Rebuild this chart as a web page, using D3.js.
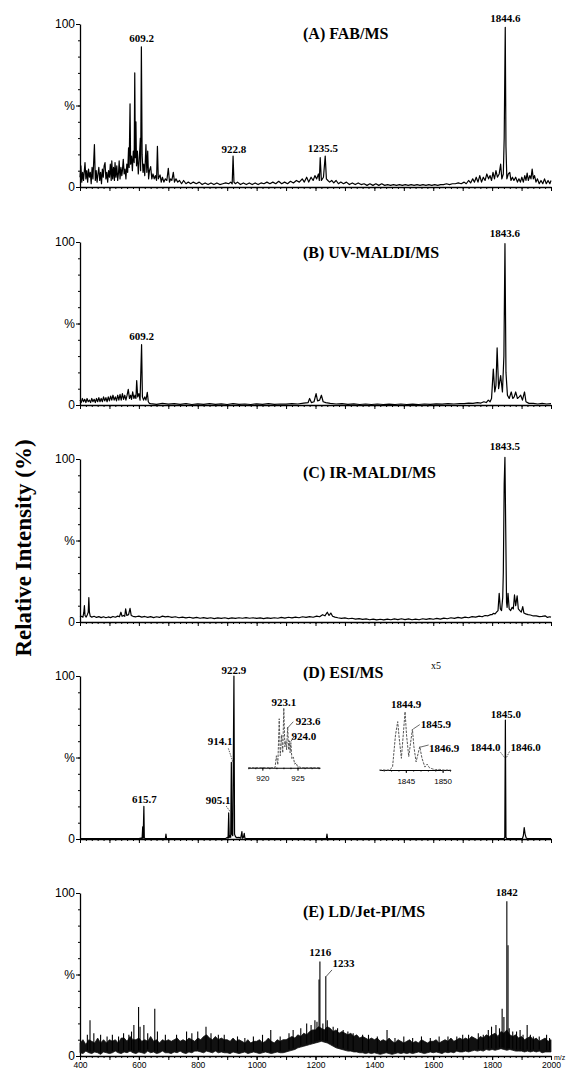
<!DOCTYPE html>
<html>
<head>
<meta charset="utf-8">
<script src="https://cdn.jsdelivr.net/npm/d3@7"></script>
<style>
  body { margin: 0; background: #fff; }
  svg { display: block; }
</style>
</head>
<body>
<div id="graf"></div>
<script>
// ---- data: [m/z, relative intensity %] ----
const titles = ["(A) FAB/MS", "(B) UV-MALDI/MS", "(C) IR-MALDI/MS", "(D) ESI/MS", "(E) LD/Jet-PI/MS"]
const xTickLabels = [400, 600, 800, 1000, 1200, 1400, 1600, 1800, 2000]
const yTickValues = [0, 50, 100]
const yTickLabels = ["0", "%", "100"]

const specA = [[400,6],[403,13],[406,3],[409,9],[412,4],[417,15],[420,5],[423,10],[426,3],[429,11],[432,6],[435,9],[438,2],[441,12],[444,5],[449,26],[452,4],[455,10],[458,3],[461,8],[464,12],[467,4],[470,9],[473,2],[476,11],[479,6],[482,13],[485,15],[488,5],[491,9],[494,3],[497,10],[500,6],[503,14],[506,4],[508,16],[511,5],[514,12],[517,4],[519,15],[522,6],[525,13],[528,4],[531,9],[533,16],[536,5],[539,12],[542,7],[544,10],[547,17],[550,8],[553,11],[556,5],[559,14],[562,9],[565,24],[567,12],[570,51],[572,14],[575,19],[578,10],[581,22],[584,15],[586,70],[588,18],[590,40],[592,13],[595,22],[598,8],[601,16],[605,30],[606,10],[608.5,86],[611,20],[614,9],[617,14],[620,7],[624,26],[627,9],[630,22],[633,5],[636,10],[640,12.5],[644,5],[648,8],[652,5],[656,7],[660,4],[663,25],[666,5],[672,7.4],[676,3],[680,6],[685,3],[690,5],[695,4],[700,11.5],[704,3],[708,5],[712,4],[717,9],[721,3],[726,5],[732,3],[738,4],[745,2],[752,4],[760,2],[768,3],[776,2],[785,3],[795,2],[805,3],[815,1.5],[825,2.5],[835,1.5],[845,2.5],[855,1.5],[865,2.5],[875,1.5],[885,2],[895,2.5],[905,2],[912,3],[917,2],[920,19],[923,3],[928,2],[935,3],[945,1.5],[955,2.5],[965,1.5],[975,2.5],[985,1.5],[995,2.5],[1005,1.5],[1015,2.5],[1025,2],[1035,3],[1045,2],[1055,3],[1065,2],[1075,3.5],[1085,2],[1095,3],[1105,2],[1115,3.5],[1125,2.5],[1135,4],[1145,3],[1155,5],[1162,3],[1170,6],[1177,3],[1185,6],[1192,4],[1198,7],[1204,5],[1210,8],[1213,4],[1216,18],[1220,4],[1227,6],[1233,19],[1237,5],[1242,4],[1248,3],[1255,4],[1262,2.5],[1270,4],[1278,2],[1286,3],[1295,2],[1305,3],[1315,1.5],[1325,2.5],[1335,1.5],[1345,2.5],[1355,1.5],[1365,2],[1375,1],[1385,2],[1395,1],[1405,2],[1415,1],[1425,2],[1435,1],[1445,1.5],[1455,1],[1465,1.5],[1475,1],[1485,1.5],[1495,1],[1505,1.5],[1515,1],[1525,1.5],[1535,1],[1545,1.5],[1555,1],[1565,1.5],[1575,1],[1585,1.5],[1595,1],[1605,1.5],[1615,1],[1625,1.5],[1635,1.5],[1645,2],[1655,1.5],[1665,2],[1675,2],[1685,2.5],[1695,2],[1705,3],[1712,2],[1720,4],[1727,2.5],[1734,5],[1740,3],[1746,6],[1752,3],[1758,7],[1764,3],[1770,6],[1776,4],[1782,8],[1788,5],[1793,7],[1798,4],[1803,9],[1808,5],[1813,10],[1818,6],[1824,8],[1829,14],[1833,5],[1838,8],[1841,30],[1844.6,98],[1847,25],[1850,5],[1855,8],[1860,9],[1864,4],[1869,6],[1874,4],[1880,6],[1886,3],[1891,5],[1896,3],[1901,6],[1906,3],[1911,7],[1915,4],[1919,8.5],[1923,4],[1928,7],[1932,5],[1936,11],[1940,5],[1944,7],[1949,3],[1954,5],[1960,2],[1966,4],[1972,2],[1978,5],[1984,2],[1990,4],[1996,2],[2000,4]]

const specB = [[400,3],[404,1.5],[408,4],[412,2],[416,3.5],[420,1.5],[424,4],[428,2],[432,3],[436,1.5],[440,4],[444,2],[448,3.5],[452,1.5],[456,4],[460,2],[464,4.5],[468,2],[472,4],[476,2],[480,5],[484,2.5],[488,4.5],[492,2],[496,5],[500,2.5],[504,5.5],[508,3],[512,6],[516,3],[520,5],[524,2.5],[528,6],[532,3],[536,6.5],[540,3],[544,7],[548,3.5],[552,6],[556,3],[560,6],[564,9.6],[568,4],[572,6],[575,3.5],[579,8],[583,4],[587,6],[590,4],[592.6,15],[596,5],[600,7],[604,3],[609.2,37],[612,5],[616,3],[620,5],[624,3],[628.6,7.8],[632,2],[636,1],[640,0.8],[660,0.4],[680,1],[700,0.5],[720,0.9],[740,0.4],[760,0.8],[780,0.3],[800,0.7],[820,0.4],[840,0.9],[860,0.4],[880,0.7],[900,0.3],[920,0.8],[940,0.4],[960,0.6],[980,0.3],[1000,0.7],[1020,0.4],[1040,0.8],[1060,0.4],[1080,0.6],[1100,0.5],[1120,0.9],[1140,0.6],[1160,1.2],[1175,1.5],[1180,4],[1186,1.5],[1195,2],[1202,7],[1207,2.5],[1214,3],[1220,6],[1226,2],[1235,1.5],[1250,1],[1270,0.6],[1290,0.8],[1310,0.4],[1330,0.7],[1350,0.3],[1370,0.6],[1390,0.3],[1410,0.6],[1430,0.3],[1450,0.5],[1470,0.3],[1490,0.6],[1510,0.3],[1530,0.5],[1550,0.3],[1570,0.6],[1590,0.4],[1610,0.7],[1630,0.5],[1650,0.8],[1670,0.6],[1690,0.9],[1705,0.8],[1720,1.2],[1735,1],[1750,1.5],[1762,1.2],[1772,2],[1780,1.5],[1787,3],[1793,2],[1798,4],[1804,22],[1809,8],[1813,12],[1817,35],[1822,10],[1829,18],[1835,8],[1840,30],[1843.6,99],[1847,20],[1852,6],[1858,4],[1865,8],[1870,4],[1875,5],[1880,8],[1886,4],[1892,5],[1897,6],[1903,3],[1910,8],[1915,2],[1925,1],[1940,1],[1955,0.6],[1970,1],[1985,0.6],[2000,0.8]]

const specC = [[400,3],[405,3.5],[410,3],[413,6],[415,10],[417,4],[421,3],[425,4.5],[428,6],[430,15],[432,6],[435,3.5],[440,3],[448,3.5],[456,2.8],[464,3.3],[472,2.7],[480,3.2],[488,2.6],[496,3.1],[504,2.7],[512,3.4],[520,2.9],[528,3.6],[534,3.2],[539,6],[543,3.5],[548,4],[552,3.5],[555,8],[559,4],[565,4.5],[570,8.4],[574,4],[580,3.5],[590,3.2],[600,3.6],[610,3],[620,3.4],[630,2.8],[640,3.3],[650,2.7],[660,3.2],[670,2.8],[680,3.6],[690,3.1],[700,3.4],[712,2.8],[724,3.2],[736,2.6],[748,3],[760,2.5],[772,2.9],[784,2.4],[796,2.8],[808,2.3],[820,2.7],[832,2.2],[844,2.6],[856,2.1],[868,2.5],[880,2.2],[892,2.6],[904,2.1],[916,2.5],[928,2.2],[940,2.6],[952,2.3],[964,2.7],[976,2.3],[988,2.6],[1000,2.2],[1012,2.5],[1024,2.1],[1036,2.5],[1048,2.2],[1060,2.6],[1072,2.3],[1084,2.8],[1096,2.4],[1108,2.9],[1120,2.5],[1132,3],[1144,2.6],[1156,3.2],[1168,2.8],[1180,3.3],[1192,2.9],[1204,3.6],[1214,3.2],[1224,4.5],[1232,3.8],[1240,6],[1246,4],[1252,5.5],[1258,3.5],[1266,3],[1276,2.6],[1288,2.2],[1300,2.5],[1312,2],[1324,2.3],[1336,1.8],[1348,2.1],[1360,1.6],[1372,1.9],[1384,1.4],[1396,1.8],[1408,1.3],[1420,1.7],[1432,1.3],[1444,1.8],[1456,1.4],[1468,1.9],[1480,1.5],[1492,2],[1504,1.5],[1516,1.9],[1528,1.4],[1540,1.8],[1552,1.4],[1564,2],[1576,1.6],[1588,2.1],[1600,1.7],[1612,2.2],[1624,1.8],[1636,2.4],[1648,2],[1660,2.6],[1672,2.2],[1684,2.8],[1696,2.4],[1708,3],[1720,2.6],[1732,3.3],[1744,3],[1756,3.6],[1766,3.2],[1776,4],[1786,3.8],[1795,4.5],[1800,4.5],[1804,5.3],[1810,5],[1815,6],[1820,7],[1824,17.6],[1828,8],[1832,7],[1836,15],[1838,30],[1841,85],[1843.5,101],[1846,60],[1849,12],[1851,9],[1854,17.6],[1858,8],[1863,7],[1868,9],[1872,8],[1876,16.6],[1880,10],[1885,16],[1889,8],[1894,7],[1899,6],[1904,9.4],[1908,5.5],[1914,5],[1922,4.5],[1930,4.3],[1940,3.7],[1950,3.8],[1960,3.3],[1970,3.5],[1980,3.8],[1988,2.8],[1995,3.2],[2000,3]]

const specD = [[400,0.3],[500,0.3],[600,0.3],[608,0.5],[611,0.3],[613,7.5],[614.5,0.5],[617,20],[618.5,0.5],[622,0.3],[690,0.3],[692,3],[694,0.3],[895,0.3],[900,1],[903,0.5],[905.1,16],[907,1],[910,2],[912,1],[914.1,47],[916,3],[919,2],[922.9,100],[925,3],[928,1.5],[932,0.8],[940,1],[946,0.5],[950,4.5],[952,0.5],[955,1],[958,3.5],[960,0.5],[965,0.3],[1237,0.3],[1239,3],[1241,0.3],[1840,0.3],[1843,1],[1845,73],[1847,1],[1850,0.3],[1903,0.3],[1906,2],[1909,7],[1912,3],[1916,0.5],[1920,0.3],[2000,0.3]]

// ESI insets (zoomed isotope clusters, x5)
const insetD1 = [[918,0],[921.8,0],[922.0,20],[922.2,5],[922.4,82],[922.55,20],[922.75,55],[922.9,25],[923.05,100],[923.2,35],[923.35,45],[923.45,30],[923.6,68],[923.75,30],[923.85,45],[923.95,25],[924.05,42],[924.2,15],[924.4,18],[924.6,6],[924.8,8],[925.0,2],[925.3,1],[925.6,0],[928.2,0]]
const insetD2 = [[1841.4,0],[1842.8,0],[1843.2,5],[1843.6,60],[1843.9,83],[1844.1,55],[1844.4,20],[1844.9,100],[1845.1,60],[1845.4,23],[1845.9,70],[1846.1,40],[1846.4,14],[1846.9,40],[1847.2,20],[1847.6,5],[1847.9,10],[1848.2,4],[1848.6,2],[1849,0.5],[1849.6,1],[1850.0,0],[1851.1,0]]

// LD/Jet-PI: noise band (every 10 m/z from 400), plus spikes
const bandLo = [2,1.5,3,2,1.5,2.5,2,1,2.5,2, 1.5,2,3,2,1.5,2.5,2,3,2,1.5, 2.5,2,1.5,3,2,2.5,1.5,2,3,2, 2,1.5,2.5,2,3,2,1.5,2.5,2,3, 3,2.5,2,3,2.5,2,3,2,2.5,2, 2,1.5,2.5,2,1.5,2,2.5,1.5,2,2.5, 2,1.5,2,2.5,2,1.5,2,2.5,2,2, 2.5,3,3.5,4,5,5.5,6,6.5,7,7.5, 8,8.5,9,8.5,8,7,6,5,4.5,4, 3.5,3,3,2.5,2.5,2,2,1.5,2,1.5, 2,1.5,1,1.5,2,1.5,1,1.5,2,1.5, 2,1.5,2,1.5,2,2.5,2,1.5,2,2.5, 2,2.5,2,1.5,2.5,2,2.5,2,3,2.5, 2.5,3,2.5,3,3.5,3,3.5,3,4,3.5, 4,3.5,4,4.5,4,3.5,4,3.5,3,3, 3,2.5,3,2.5,3,2.5,3,2,2.5,2.5, 2.5]
const bandHi = [8,10,7,10,9,8,11,8,10,8, 10,9,10,8,11,11,9,12,10,10, 11,9,10,9,12,9,10,8,10,9, 10,9,10,11,9,10,9,11,10,9, 11,10,12,13,11,10,12,10,11,10, 10,9,11,9,10,9,8,10,8,9, 9,10,8,9,11,9,8,10,9,10, 10,11,12,11,13,12,14,13,15,16, 16,18,17,16,18,17,15,16,14,15, 14,13,14,12,13,11,12,11,10,11, 10,11,9,10,9,11,9,8,10,9, 8,9,10,8,9,8,10,9,8,9, 9,10,8,9,10,9,11,9,10,11, 10,11,10,12,11,10,12,11,13,12, 13,14,12,15,14,16,13,12,13,11, 12,10,11,12,10,11,9,10,11,9, 10]
const spikesE = [[425,13],[434,22],[447,14],[470,13],[492,12],[510,13],[531,12],[548,14],[566,13],[575,15],[583,19],[599,30],[604,18],[617,19],[630,14],[654,29],[663,15],[690,13],[728,13],[762,15],[780,14],[800,15],[828,18],[845,14],[870,13],[890,13],[935,12],[960,11],[989,12],[1020,13],[1048,16],[1080,12],[1110,14],[1124,16],[1150,17],[1170,20],[1185,19],[1198,22],[1205,21],[1212,47],[1215,58],[1225,20],[1235,49],[1240,22],[1260,18],[1275,17],[1294,16],[1310,15],[1328,14],[1360,13],[1380,13],[1410,12],[1443,16],[1470,11],[1500,12],[1530,11],[1560,12],[1590,11],[1620,12],[1650,12],[1680,12],[1700,13],[1720,13],[1753,14],[1770,13],[1787,16],[1798,18],[1813,19],[1825,17],[1834,29],[1840,24],[1850,95],[1854,68],[1858,17],[1870,15],[1883,15],[1895,16],[1905,13],[1919,19],[1930,13],[1940,12],[1960,12],[1985,13],[1995,11]]

// peak labels: [text, m/z of label centre, % level of label baseline]
const labelsA = [["609.2", 609.2, 89], ["922.8", 922.8, 21], ["1235.5", 1225, 21.5], ["1844.6", 1844.6, 101.5]]
const labelsB = [["609.2", 609.2, 40], ["1843.6", 1843.6, 103]]
const labelsC = [["1843.5", 1843.5, 105.5]]
const labelsD = [["922.9", 922.9, 101.2], ["914.1", 876, 57.4], ["905.1", 869, 21.5], ["615.7", 619, 22], ["1845.0", 1847, 74.2], ["1844.0", 1777, 54], ["1846.0", 1914, 54]]
const labelsE = [["1216", 1216, 61.3], ["1233", 1295, 54.4], ["1842", 1850, 98.3]]
const leadersD = [[[904, 55.6], [919, 47.4]], [[896.6, 20.2], [912, 16.3]], [[1828.6, 53.2], [1842.5, 49.9]], [[1849, 50.1], [1860, 54]]]
const leadersE = [[[1235.7, 48.7], [1256, 52.8]]]
const insetLabels1 = [["923.1", 923.05, 103], ["923.6", 926.5, 71.5], ["924.0", 925.9, 46.4]]
const insetLeaders1 = [[[923.55, 66], [924.4, 77]], [[924.03, 43.5], [924.5, 52]]]
const insetLabels2 = [["1844.9", 1845.05, 106], ["1845.9", 1849.1, 71.5], ["1846.9", 1850.2, 31.4]]
const insetLeaders2 = [[[1846.0, 70.3], [1846.9, 77.9]], [[1846.9, 39], [1848.1, 42.9]]]

// ---- layout ----
const serif = '"Liberation Serif", "Times New Roman", serif'
const sans = '"Liberation Sans", Arial, sans-serif'
const panelH = 163
const fmt = d3.format("d")

const svg = d3.select("#graf")
  .append("svg")
  .attr("width", 568)
  .attr("height", 1069)

const x = d3.scaleLinear().domain([400, 2000]).range([80, 551])
const bandMz = bandHi.map((d, i) => 400 + i * 10)

const panels = [
  { base: 187, titleDy: 14.5, spec: specA, labels: labelsA },
  { base: 405, titleDy: 16, spec: specB, labels: labelsB },
  { base: 622, titleDy: 19, spec: specC, labels: labelsC },
  { base: 839, titleDy: 2, spec: specD, labels: labelsD, leaders: leadersD },
  { base: 1056, titleDy: 24, labels: labelsE, leaders: leadersE, band: true },
]

const styleAxis = (sel) => {
  sel.selectAll(".domain").attr("stroke-width", 1.3)
  sel.selectAll(".tick line").attr("stroke-width", 1)
}

panels.forEach((p, i) => {
  const y = d3.scaleLinear().domain([0, 100]).range([p.base, p.base - panelH])
  const g = svg.append("g")
  const last = i === panels.length - 1

  // x axis: minor every 20, major every 100
  g.append("g")
    .attr("transform", `translate(0,${p.base})`)
    .call(d3.axisBottom(x).tickValues(d3.range(400, 2001, 20)).tickSize(2).tickSizeOuter(0).tickFormat(""))
    .call(styleAxis)
  g.append("g")
    .attr("transform", `translate(0,${p.base})`)
    .call(d3.axisBottom(x).tickValues(d3.range(400, 2001, 100)).tickSize(4).tickFormat(""))
    .call((s) => s.select(".domain").remove())
  if (last) {
    g.append("g")
      .attr("transform", `translate(0,${p.base})`)
      .call(d3.axisBottom(x).tickValues(xTickLabels).tickSize(4).tickPadding(1.5).tickFormat(fmt))
      .call((s) => s.select(".domain").remove())
      .call((s) => s.selectAll("text").attr("font-family", sans).attr("font-size", 8.5))
    g.append("text")
      .attr("x", 554)
      .attr("y", p.base + 4)
      .attr("font-family", sans)
      .attr("font-size", 7)
      .text("m/z")
  }

  // y axis: minor every 10, labels at 0 / % / 100
  g.append("g")
    .attr("transform", "translate(80,0)")
    .call(d3.axisLeft(y).tickValues(d3.range(0, 101, 10)).tickSize(2).tickSizeOuter(0).tickFormat(""))
    .call(styleAxis)
  g.append("g")
    .attr("transform", "translate(80,0)")
    .call(d3.axisLeft(y).tickValues(yTickValues).tickSize(4).tickPadding(1)
      .tickFormat((d, k) => yTickLabels[k]))
    .call((s) => s.select(".domain").remove())
    .call((s) => s.selectAll("text").attr("font-family", sans).attr("font-size", 12))

  const line = d3.line().x((d) => x(d[0])).y((d) => y(d[1]))

  if (p.band) {
    const area = d3.area()
      .x((d, k) => x(bandMz[k]))
      .y0((d, k) => y(bandLo[k]))
      .y1((d) => y(d))
    g.append("path")
      .datum(bandHi)
      .attr("d", area)
      .attr("fill", "#111")
      .attr("stroke", "#111")
      .attr("stroke-width", 0.8)
    const lo = d3.scaleLinear().domain(bandMz).range(bandLo)
    g.selectAll(".spike")
      .data(spikesE)
      .enter()
      .append("line")
      .attr("x1", (d) => x(d[0]))
      .attr("x2", (d) => x(d[0]))
      .attr("y1", (d) => y(lo(d[0]) + 1))
      .attr("y2", (d) => y(d[1]))
      .attr("stroke", "#000")
      .attr("stroke-width", 1.1)
  }

  if (p.spec) {
    g.append("path")
      .datum(p.spec)
      .attr("d", line)
      .attr("fill", "none")
      .attr("stroke", "#000")
      .attr("stroke-width", 1.2)
      .attr("stroke-linejoin", "round")
  }

  if (p.leaders) {
    g.selectAll(".leader")
      .data(p.leaders)
      .enter()
      .append("path")
      .attr("d", line)
      .attr("fill", "none")
      .attr("stroke", "#333")
      .attr("stroke-width", 0.8)
      .attr("stroke-dasharray", i === 3 ? "1.5,1" : null)
  }

  g.selectAll(".peak")
    .data(p.labels)
    .enter()
    .append("text")
    .attr("x", (d) => x(d[1]))
    .attr("y", (d) => y(d[2]))
    .attr("text-anchor", "middle")
    .attr("font-family", serif)
    .attr("font-weight", "bold")
    .attr("font-size", 11)
    .text((d) => d[0])

  g.append("text")
    .attr("x", 303)
    .attr("y", p.base - panelH + p.titleDy)
    .attr("font-family", serif)
    .attr("font-weight", "bold")
    .attr("font-size", 16)
    .text(titles[i])

  if (i === 3) {
    g.append("text")
      .attr("x", 431)
      .attr("y", 669)
      .attr("font-family", serif)
      .attr("font-size", 10)
      .text("x5")
    drawInset(insetD1, [918, 928.2], [248.3, 320], 767.7, 59.7, [920, 925], insetLabels1, insetLeaders1)
    drawInset(insetD2, [1841.4, 1851.1], [379.3, 450.7], 770, 58.3, [1845, 1850], insetLabels2, insetLeaders2)
  }
})

function drawInset(data, dom, rng, base, h, majors, labels, leaders) {
  const xi = d3.scaleLinear().domain(dom).range(rng)
  const yi = d3.scaleLinear().domain([0, 100]).range([base, base - h])
  const g = svg.append("g")
  g.append("g")
    .attr("transform", `translate(0,${base})`)
    .call(d3.axisBottom(xi).tickValues(d3.range(Math.ceil(dom[0]), dom[1], 1)).tickSize(1.5).tickSizeOuter(0).tickFormat(""))
    .call((s) => s.select(".domain").attr("stroke-width", 1.1))
  g.append("g")
    .attr("transform", `translate(0,${base})`)
    .call(d3.axisBottom(xi).tickValues(majors).tickSize(3).tickPadding(5).tickFormat(fmt))
    .call((s) => s.select(".domain").remove())
    .call((s) => s.selectAll("text").attr("font-family", sans).attr("font-size", 8))
  const li = d3.line().x((d) => xi(d[0])).y((d) => yi(d[1]))
  g.append("path")
    .datum(data)
    .attr("d", li)
    .attr("fill", "none")
    .attr("stroke", "#555")
    .attr("stroke-width", 1)
    .attr("stroke-dasharray", "2.5,1.2")
  g.selectAll(".ld")
    .data(leaders)
    .enter()
    .append("path")
    .attr("d", li)
    .attr("fill", "none")
    .attr("stroke", "#444")
    .attr("stroke-width", 0.8)
  g.selectAll(".il")
    .data(labels)
    .enter()
    .append("text")
    .attr("x", (d) => xi(d[1]))
    .attr("y", (d) => yi(d[2]))
    .attr("text-anchor", "middle")
    .attr("font-family", serif)
    .attr("font-weight", "bold")
    .attr("font-size", 11)
    .text((d) => d[0])
}

svg.append("text")
  .attr("transform", "translate(30.5,548) rotate(-90)")
  .attr("text-anchor", "middle")
  .attr("font-family", serif)
  .attr("font-weight", "bold")
  .attr("font-size", 23)
  .text("Relative Intensity (%)")
</script>
</body>
</html>
